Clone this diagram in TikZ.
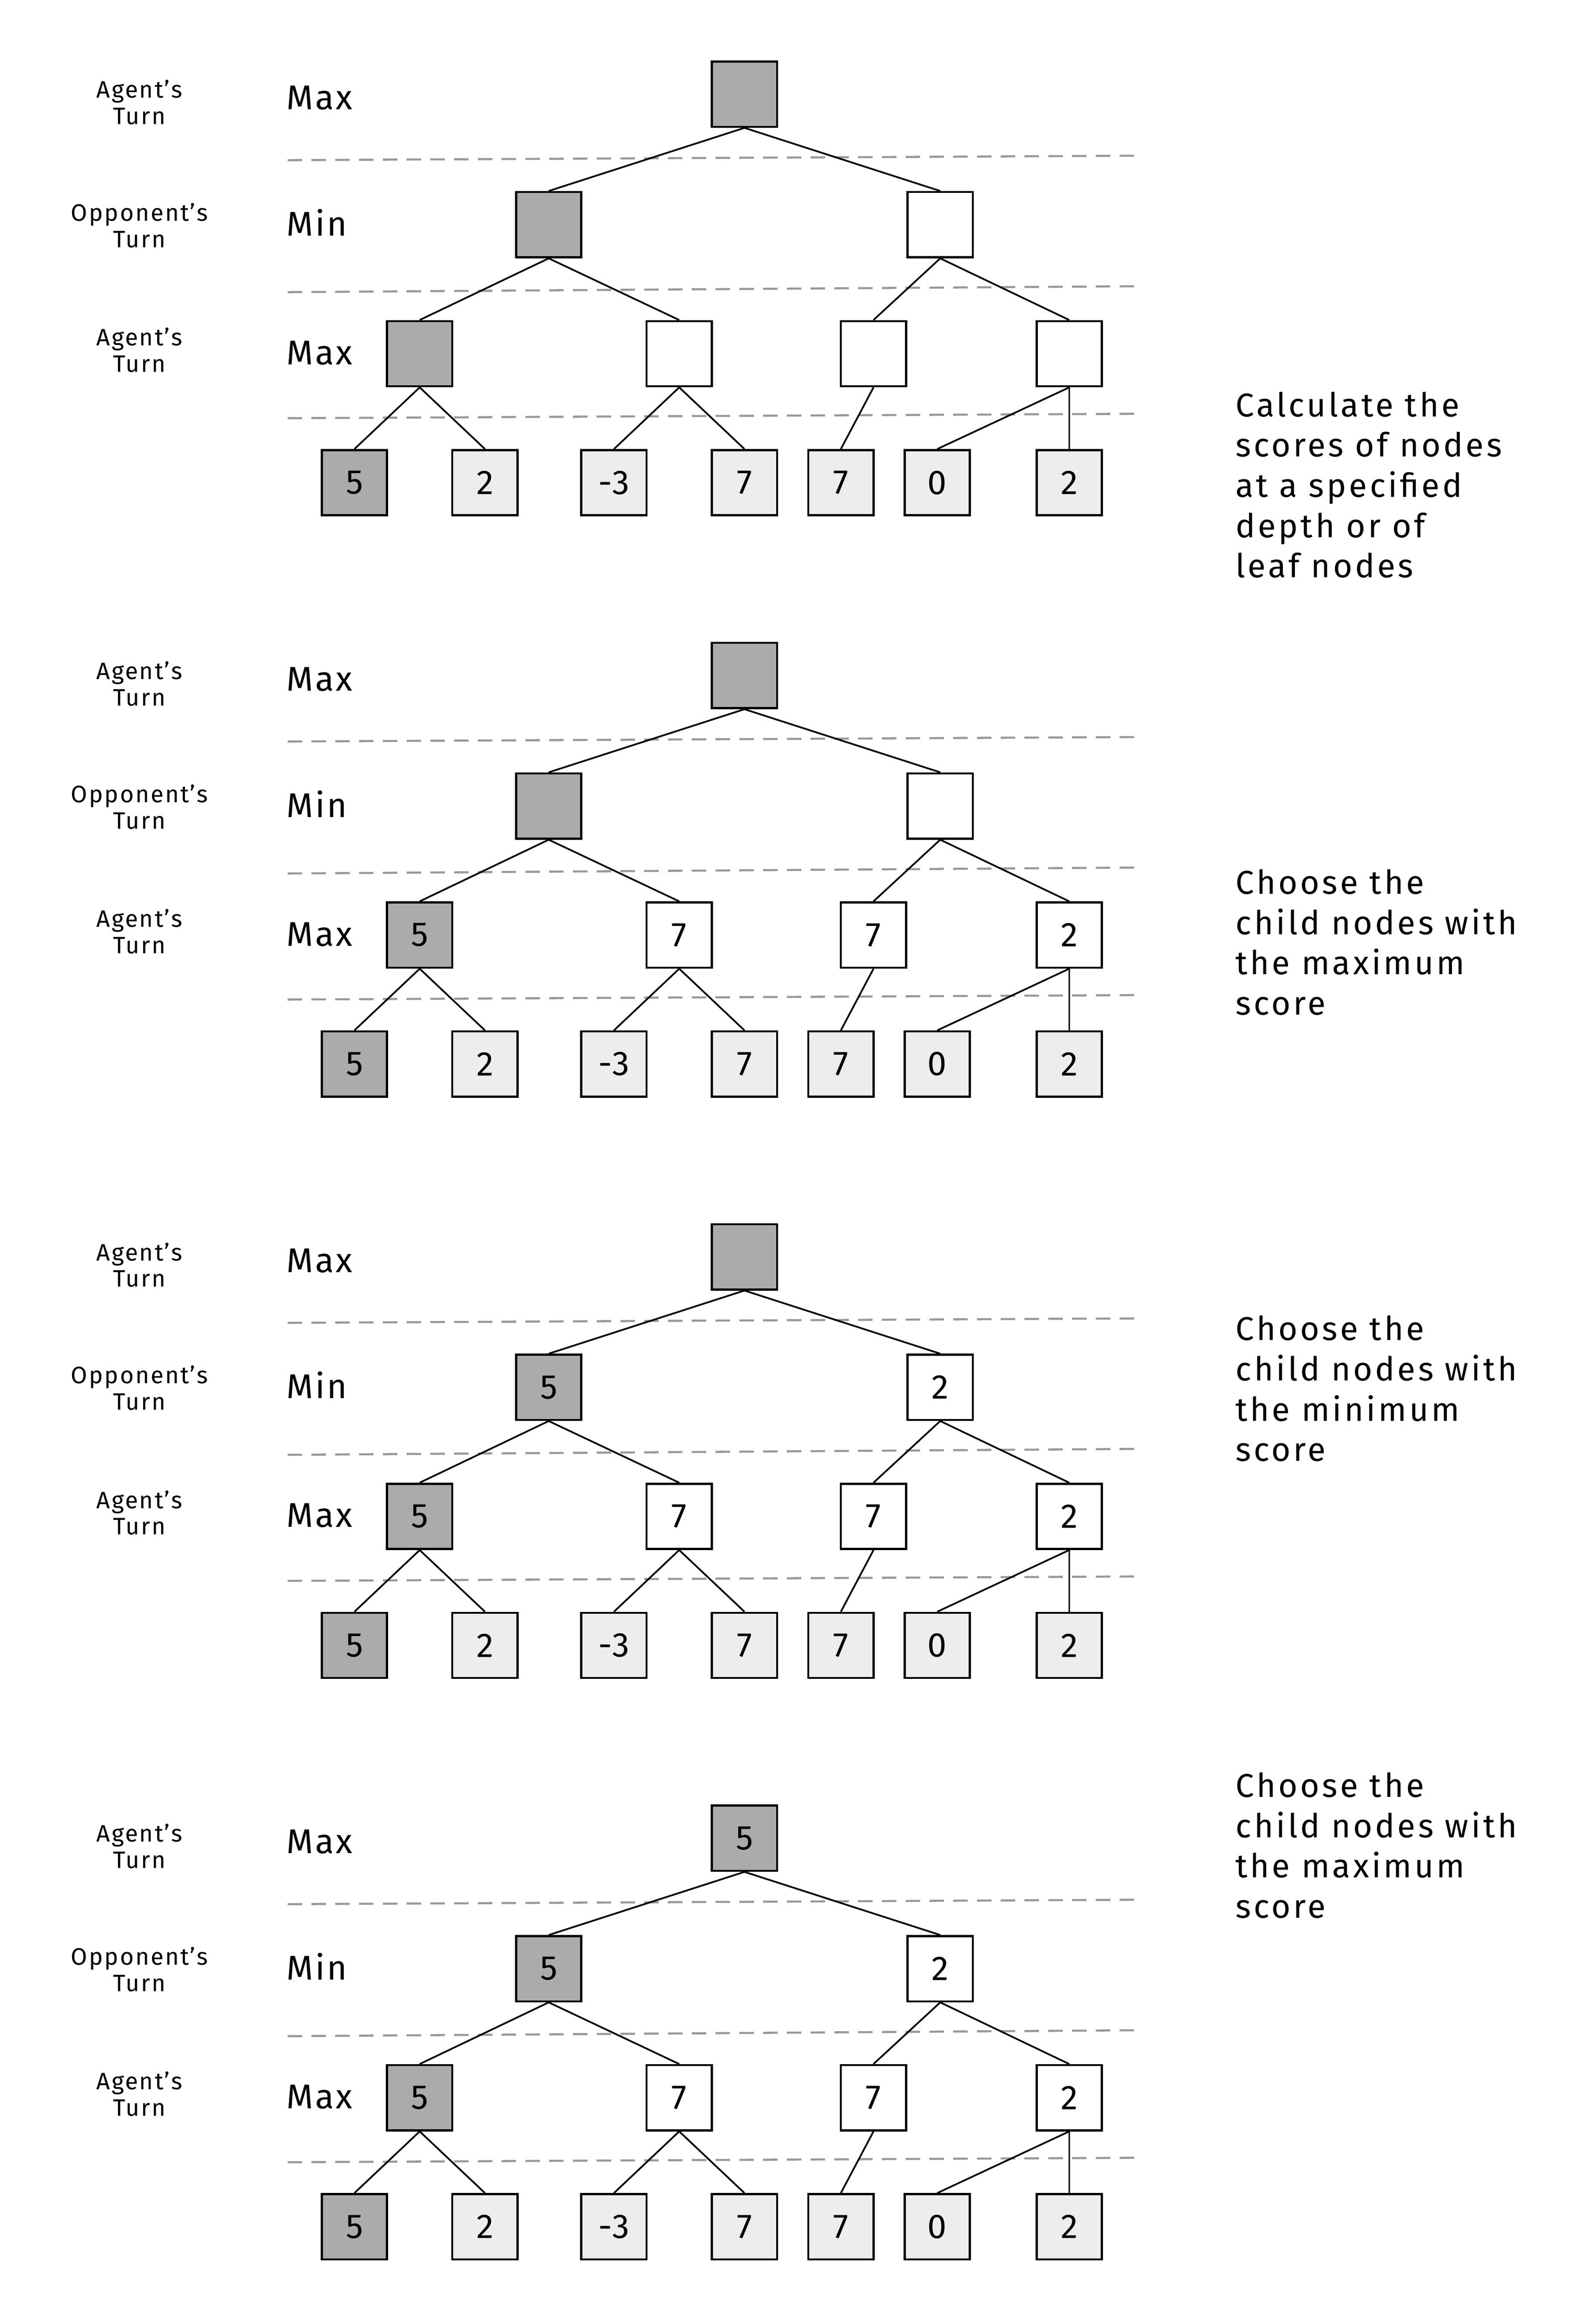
\documentclass[tikz,border=0pt]{standalone}
\usepackage{fontspec}
\setmainfont{Fira Sans}
\newfontfamily\handfont{Fira Sans}[LetterSpace=8]
\newfontfamily\labelfont{Fira Sans}[LetterSpace=6]
\usetikzlibrary{positioning}

\begin{document}
\begin{tikzpicture}[x=0.03948cm, y=-0.03948cm]
	\tikzstyle{Box}		= [rectangle, draw, line width=1.6pt, minimum size=1.737cm, inner sep=0pt, font=\labelfont\fontsize{26}{28}\selectfont]
	\tikzstyle{Best}	= [fill=black!33]
	\tikzstyle{Open}	= [fill=white]
	\tikzstyle{Leaf}	= [fill=black!7]
	\tikzstyle{Edge}	= [line width=1.3pt, black]
	\tikzstyle{Ply}		= [line width=1.6pt, black!40, dash pattern=on 11pt off 7pt]
	\tikzstyle{Turn}	= [align=center, font=\labelfont\fontsize{18}{20}\selectfont]
	\tikzstyle{Side}	= [anchor=west, font=\labelfont\fontsize{26}{30}\selectfont]
	\tikzstyle{Note}	= [anchor=north west, align=left, inner sep=0pt, font=\handfont\fontsize{25}{30.5}\selectfont]

	\useasboundingbox (0,0) rectangle (1063.8,1567.1);

	\foreach \p/\oy/\vr/\vl/\vm/\va/\vb/\vc/\vd/\ty/\txt in {
		1/0/{}/{}/{}/{}/{}/{}/{}/264/{Calculate the\\scores of nodes\\at a specified\\depth or of\\leaf nodes},
		2/392/{}/{}/{}/5/7/7/2/194/{Choose the\\child nodes with\\the maximum\\score},
		3/784/{}/5/2/5/7/7/2/103/{Choose the\\child nodes with\\the minimum\\score},
		4/1176/5/5/2/5/7/7/2/19/{Choose the\\child nodes with\\the maximum\\score}} {

		% turn labels
		\node (t1\p) at (94,{69+\oy}) [Turn] {Agent’s\\Turn};
		\node (t2\p) at (94,{152+\oy}) [Turn] {Opponent’s\\Turn};
		\node (t3\p) at (94,{236+\oy}) [Turn] {Agent’s\\Turn};
		\node (s1\p) at (190,{66+\oy}) [Side] {Max};
		\node (s2\p) at (190,{150+\oy}) [Side] {Min};
		\node (s3\p) at (190,{238+\oy}) [Side] {Max};

		\draw [Ply] (194,{108+\oy}) -- (766,{105+\oy});
		\draw [Ply] (194,{197+\oy}) -- (766,{193+\oy});
		\draw [Ply] (194,{282+\oy}) -- (766,{279+\oy});

		% tree
		\node (r\p) at (502,{63.5+\oy}) [Box][Best] {\vr};
		\node (n\p) at (370,{151.5+\oy}) [Box][Best] {\vl};
		\node (m\p) at (634,{151.5+\oy}) [Box][Open] {\vm};
		\node (a\p) at (283,{238.5+\oy}) [Box][Best] {\va};
		\node (b\p) at (458,{238.5+\oy}) [Box][Open] {\vb};
		\node (c\p) at (589,{238.5+\oy}) [Box][Open] {\vc};
		\node (d\p) at (721,{238.5+\oy}) [Box][Open] {\vd};

		\node (la\p) at (239,{325.5+\oy}) [Box][Best] {5};
		\node (lb\p) at (327,{325.5+\oy}) [Box][Leaf] {2};
		\node (lc\p) at (414,{325.5+\oy}) [Box][Leaf] {-3};
		\node (ld\p) at (502,{325.5+\oy}) [Box][Leaf] {7};
		\node (le\p) at (567,{325.5+\oy}) [Box][Leaf] {7};
		\node (lf\p) at (632,{325.5+\oy}) [Box][Leaf] {0};
		\node (lg\p) at (721,{325.5+\oy}) [Box][Leaf] {2};

		\draw [-] (r\p.south) to (n\p.north) [Edge];
		\draw [-] (r\p.south) to (m\p.north) [Edge];
		\draw [-] (n\p.south) to (a\p.north) [Edge];
		\draw [-] (n\p.south) to (b\p.north) [Edge];
		\draw [-] (m\p.south) to (c\p.north) [Edge];
		\draw [-] (m\p.south) to (d\p.north) [Edge];
		\draw [-] (a\p.south) to (la\p.north) [Edge];
		\draw [-] (a\p.south) to (lb\p.north) [Edge];
		\draw [-] (b\p.south) to (lc\p.north) [Edge];
		\draw [-] (b\p.south) to (ld\p.north) [Edge];
		\draw [-] (c\p.south) to (le\p.north) [Edge];
		\draw [-] (d\p.south) to (lf\p.north) [Edge];
		\draw [-] (d\p.south) to (lg\p.north) [Edge];

		\node (x\p) at (833,{\ty+\oy}) [Note] {\txt};
	}
\end{tikzpicture}
\end{document}
